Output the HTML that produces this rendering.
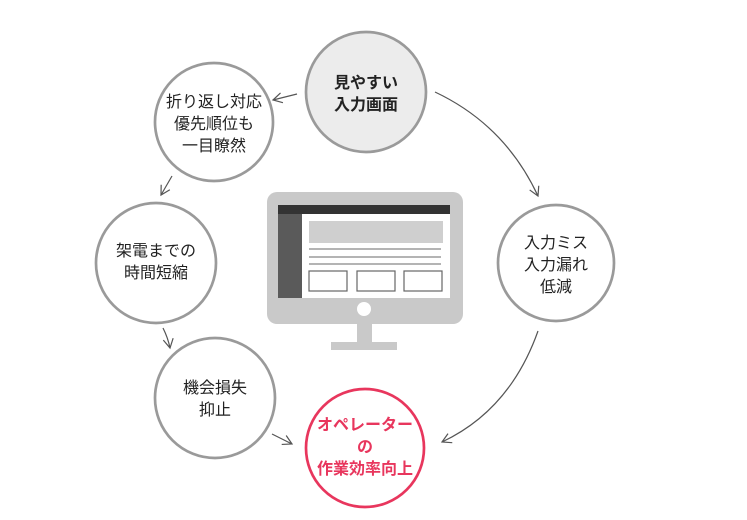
<!DOCTYPE html>
<html><head><meta charset="utf-8"><style>
html,body{margin:0;padding:0;background:#fff;}
svg text{font-family:"Liberation Sans","Noto Sans CJK JP",sans-serif;font-size:16px;text-anchor:middle;fill:#222;}
</style></head><body>
<svg width="747" height="515" viewBox="0 0 747 515" xmlns="http://www.w3.org/2000/svg">
<defs><marker id="a" markerWidth="12" markerHeight="12" refX="10" refY="6" orient="auto" markerUnits="userSpaceOnUse"><path d="M1,1 L10,6 L1,11" fill="none" stroke="#555" stroke-width="1.2"/></marker></defs>
<rect x="267" y="192" width="196" height="132" rx="10" fill="#c9c9c9"/>
<rect x="278" y="205" width="172" height="93" fill="#fff"/>
<rect x="278" y="205" width="172" height="9" fill="#333"/>
<rect x="278" y="214" width="24" height="84" fill="#5a5a5a"/>
<rect x="309" y="221" width="134" height="22" fill="#cfcfcf"/>
<g stroke="#888" stroke-width="1.3"><line x1="309" y1="249" x2="441" y2="249"/><line x1="309" y1="257" x2="441" y2="257"/><line x1="309" y1="264" x2="441" y2="264"/></g>
<g fill="#fff" stroke="#666" stroke-width="1.2"><rect x="309" y="271" width="38" height="20"/><rect x="357" y="271" width="38" height="20"/><rect x="404" y="271" width="38" height="20"/></g>
<circle cx="364" cy="309" r="7" fill="#fff"/>
<rect x="357" y="324" width="15" height="18" fill="#c9c9c9"/>
<rect x="331" y="342" width="66" height="8" fill="#c9c9c9"/>
<g stroke="#9a9a9a" stroke-width="2.7" fill="#fff">
<circle cx="366" cy="92" r="60" fill="#ececec"/>
<circle cx="214" cy="122" r="59"/>
<circle cx="156" cy="263" r="60"/>
<circle cx="215" cy="398" r="60"/>
<circle cx="556" cy="263" r="58"/>
</g>
<circle cx="365" cy="448" r="59" fill="#fff" stroke="#e8365d" stroke-width="2.7"/>
<g fill="none" stroke="#555" stroke-width="1.2" marker-end="url(#a)">
<path d="M297,94 L273,100"/>
<path d="M172,176 L161,195"/>
<path d="M163,328 Q168,338 170,348"/>
<path d="M272,434 L292,444"/>
<path d="M435,92 Q505,125 538,196"/>
<path d="M538,331 Q510,410 442,442"/>
</g>
<text x="366" y="88" style="font-weight:bold">見やすい</text>
<text x="366" y="110" style="font-weight:bold">入力画面</text>
<text x="214" y="107">折り返し対応</text>
<text x="214" y="129">優先順位も</text>
<text x="214" y="151">一目瞭然</text>
<text x="156" y="256">架電までの</text>
<text x="156" y="278">時間短縮</text>
<text x="215" y="393">機会損失</text>
<text x="215" y="415">抑止</text>
<text x="556" y="248">入力ミス</text>
<text x="556" y="270">入力漏れ</text>
<text x="556" y="292">低減</text>
<g style="font-weight:bold"><text x="365" y="430" style="fill:#e8365d">オペレーター</text>
<text x="365" y="452" style="fill:#e8365d">の</text>
<text x="365" y="474" style="fill:#e8365d">作業効率向上</text></g>
</svg>
</body></html>
